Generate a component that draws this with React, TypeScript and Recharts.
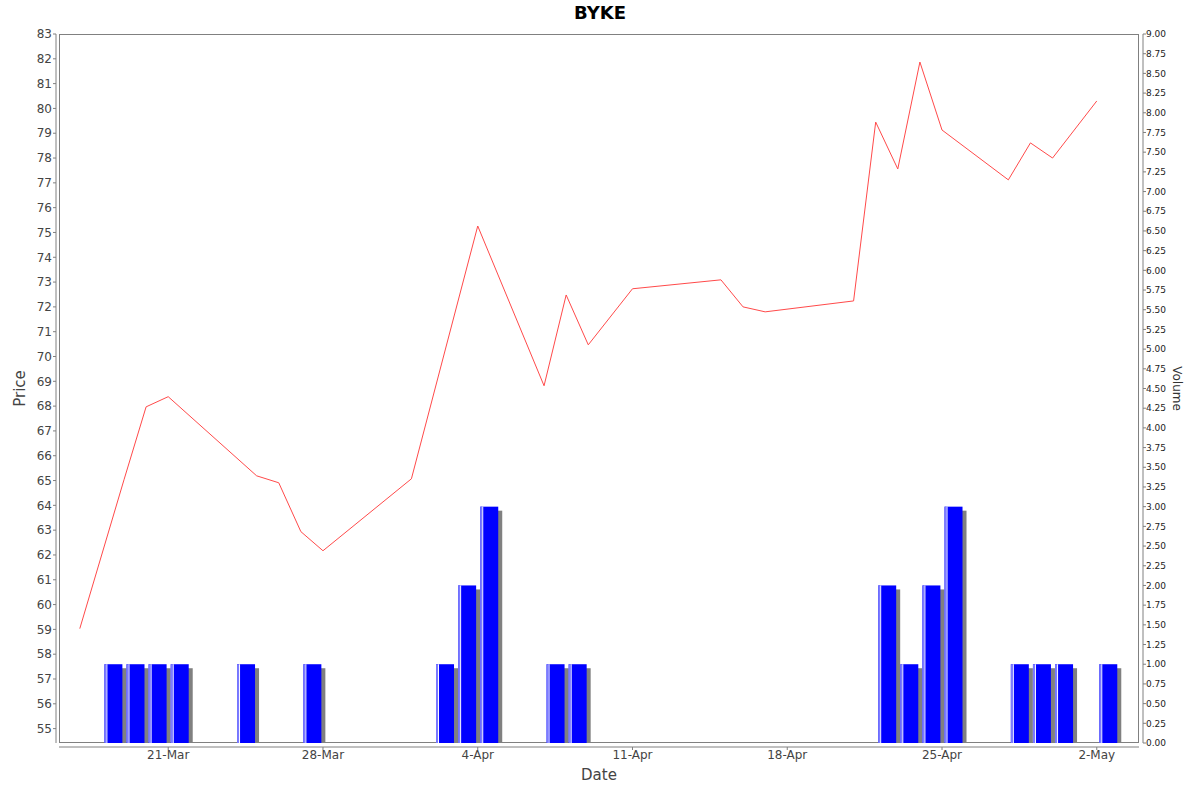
import React from "react";
import {
  ComposedChart,
  Line,
  Bar,
  XAxis,
  YAxis,
} from "recharts";

// closing prices
const priceDates = [
  "17-Mar", "19-Mar", "20-Mar", "21-Mar", "25-Mar", "26-Mar", "27-Mar", "28-Mar",
  "1-Apr", "4-Apr", "7-Apr", "8-Apr", "9-Apr", "11-Apr", "15-Apr", "16-Apr",
  "17-Apr", "21-Apr", "22-Apr", "23-Apr", "24-Apr", "25-Apr", "28-Apr", "29-Apr",
  "30-Apr", "2-May",
];
const prices = [
  59.03, 65.03, 67.97, 68.38, 65.19, 64.91, 62.94, 62.17,
  65.07, 75.26, 68.82, 72.48, 70.47, 72.73, 73.09, 72.0,
  71.8, 72.24, 79.45, 77.56, 81.87, 79.13, 77.12, 78.61,
  78.0, 80.3,
];

// traded volume
const volumeDates = [
  "18-Mar", "19-Mar", "20-Mar", "21-Mar", "24-Mar", "27-Mar", "2-Apr", "3-Apr",
  "4-Apr", "7-Apr", "8-Apr", "22-Apr", "23-Apr", "24-Apr", "25-Apr", "28-Apr",
  "29-Apr", "30-Apr", "2-May",
];
const volumes = [1, 1, 1, 1, 1, 1, 1, 2, 3, 1, 1, 2, 1, 2, 3, 1, 1, 1, 1];

const dateTicks = ["21-Mar", "28-Mar", "4-Apr", "11-Apr", "18-Apr", "25-Apr", "2-May"];
const priceTicks = [
  55, 56, 57, 58, 59, 60, 61, 62, 63, 64, 65, 66, 67, 68, 69,
  70, 71, 72, 73, 74, 75, 76, 77, 78, 79, 80, 81, 82, 83,
];
const volumeTicks = [
  0, 0.25, 0.5, 0.75, 1, 1.25, 1.5, 1.75, 2, 2.25, 2.5, 2.75, 3, 3.25, 3.5, 3.75,
  4, 4.25, 4.5, 4.75, 5, 5.25, 5.5, 5.75, 6, 6.25, 6.5, 6.75, 7, 7.25, 7.5, 7.75,
  8, 8.25, 8.5, 8.75, 9,
];

const MONTHS: Record<string, number> = { Mar: 2, Apr: 3, May: 4 };
const toDay = (s: string) => {
  const [d, m] = s.split("-");
  return Date.UTC(2014, MONTHS[m], Number(d)) / 86400000;
};
const BASE = toDay("21-Mar");
const dayOf = (s: string) => toDay(s) - BASE;

const tickLabel: Record<number, string> = {};
dateTicks.forEach((d) => (tickLabel[dayOf(d)] = d));

const chartData = [
  ...priceDates.map((d, i) => ({ t: dayOf(d), price: prices[i] })),
  // volume bars cover the day, so they sit half a day after the date
  ...volumeDates.map((d, i) => ({ t: dayOf(d) + 0.5, volume: volumes[i] })),
].sort((a, b) => a.t - b.t);

const FONT = "'DejaVu Sans', sans-serif";
const AXIS = "#808080";
const BAR_W = 18;

const VolumeBar = (props: any) => {
  const { x, y, width, height } = props;
  if (!height || height <= 0) return null;
  const left = x + width / 2 - BAR_W / 2;
  return (
    <g>
      <rect x={left + 4} y={y + 4} width={BAR_W} height={height - 4} fill="#808080" />
      <rect x={left} y={y} width={BAR_W} height={height} fill="#0000ff" />
      <rect x={left} y={y} width={2} height={height} fill="#7b7bff" />
      <rect x={left + 2} y={y} width={1} height={height} fill="#ffffff" />
    </g>
  );
};

export default function App() {
  return (
    <div
      style={{
        position: "absolute",
        left: 0,
        top: 0,
        width: 1200,
        height: 792,
        background: "#fff",
        fontFamily: FONT,
      }}
    >
      <style>{`
        .ax-price { transform: translate(-3px, 0); }
        .ax-volume { transform: translate(4px, 0); }
        .ax-date { transform: translate(0, 4px); }
      `}</style>
      <div
        style={{
          position: "absolute",
          left: 0,
          top: 2,
          width: 1200,
          textAlign: "center",
          fontSize: 18,
          fontWeight: "bold",
          color: "#000",
          lineHeight: "22px",
        }}
      >
        BYKE
      </div>
      <div
        style={{
          position: "absolute",
          left: 59,
          top: 34,
          width: 1080,
          height: 709,
          boxSizing: "border-box",
          border: `1px solid ${AXIS}`,
          pointerEvents: "none",
        }}
      />
      <ComposedChart
        width={1200}
        height={792}
        data={chartData}
        margin={{ top: 34, right: 11, bottom: 19, left: 14 }}
      >
        <XAxis
          className="ax-date"
          dataKey="t"
          type="number"
          domain={[-4.94, 43.91]}
          allowDataOverflow
          ticks={dateTicks.map(dayOf)}
          interval={0}
          tickFormatter={(v: number) => tickLabel[v] ?? ""}
          height={30}
          tickSize={3}
          tickMargin={4}
          stroke={AXIS}
          tick={{ fill: "#444", fontSize: 12, fontFamily: FONT }}
          label={{
            content: () => (
              <text
                x={599}
                y={771}
                textAnchor="middle"
                dominantBaseline="central"
                fill="#444"
                fontSize={15}
                fontFamily={FONT}
              >
                Date
              </text>
            ),
          }}
        />
        <YAxis
          className="ax-price"
          yAxisId="price"
          orientation="left"
          type="number"
          domain={[54.42, 83]}
          allowDataOverflow
          ticks={priceTicks}
          interval={0}
          width={45}
          tickSize={3}
          tickMargin={4}
          stroke={AXIS}
          tick={{ fill: "#444", fontSize: 12, fontFamily: FONT }}
          label={{
            content: () => (
              <text
                x={23}
                y={388.5}
                transform="rotate(-90 23 388.5)"
                textAnchor="middle"
                dominantBaseline="central"
                fill="#444"
                fontSize={15}
                fontFamily={FONT}
              >
                Price
              </text>
            ),
          }}
        />
        <YAxis
          className="ax-volume"
          yAxisId="volume"
          orientation="right"
          type="number"
          domain={[0, 9]}
          allowDataOverflow
          ticks={volumeTicks}
          interval={0}
          width={50}
          tickSize={3}
          tickMargin={4}
          stroke={AXIS}
          tickFormatter={(v: number) => v.toFixed(2)}
          tick={{ fill: "#222", fontSize: 9, fontFamily: FONT }}
          label={{
            content: () => (
              <text
                x={1173}
                y={388.5}
                transform="rotate(90 1173 388.5)"
                textAnchor="middle"
                dominantBaseline="central"
                fill="#333"
                fontSize={12}
                fontFamily={FONT}
              >
                Volume
              </text>
            ),
          }}
        />
        <Bar
          yAxisId="volume"
          dataKey="volume"
          barSize={BAR_W}
          shape={VolumeBar}
          isAnimationActive={false}
        />
        <Line
          yAxisId="price"
          type="linear"
          dataKey="price"
          stroke="#ff4a4a"
          strokeWidth={1}
          dot={false}
          activeDot={false}
          connectNulls
          isAnimationActive={false}
        />
      </ComposedChart>
    </div>
  );
}
